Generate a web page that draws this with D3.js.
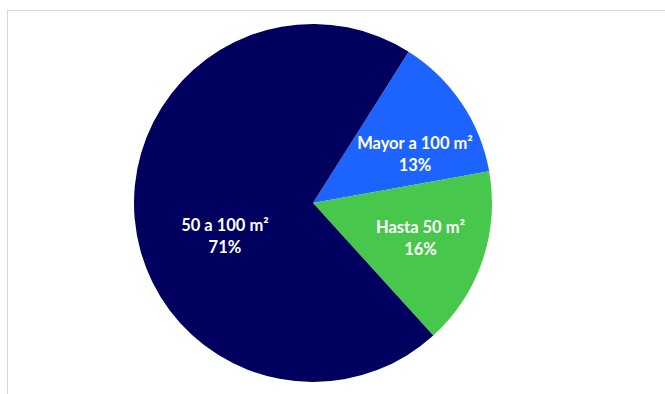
<!DOCTYPE html>
<html><head><meta charset="utf-8">
<script src="https://cdn.jsdelivr.net/npm/d3@7"></script>
<style>html,body{margin:0;padding:0;background:#fff;}svg{display:block;}</style>
</head><body>
<svg id="chart" width="665" height="394"></svg>
<script>
const categories = ["Mayor a 100 m²", "Hasta 50 m²", "50 a 100 m²"];
const values = [13.2, 16.1, 70.7];
const percentLabels = ["13%", "16%", "71%"];
const colors = ["#1D63FF", "#47C74B", "#00005E"];

const W = 665, H = 394;
const cx = 313, cy = 203, R = 179;
const startDeg = 32.3;
// label placement (polar, relative to pie centre): radius, angle in degrees from top
const labelPolar = [{r: 113, a: 64.5}, {r: 113, a: 108}, {r: 94, a: 249.5}];

const svg = d3.select("#chart");
svg.append("rect").attr("x", 7.5).attr("y", 10.5).attr("width", W + 20).attr("height", H + 20)
  .attr("fill", "none").attr("stroke", "#d9d9d9").attr("stroke-width", 1);

const start = startDeg * Math.PI / 180;
const pie = d3.pie().sort(null).startAngle(start).endAngle(start + 2 * Math.PI);
const arcs = pie(values);
const arc = d3.arc().innerRadius(0).outerRadius(R);

const g = svg.append("g").attr("transform", `translate(${cx},${cy})`);
g.selectAll("path").data(arcs).join("path")
  .attr("d", arc).attr("fill", (d, i) => colors[i]);

const lab = g.selectAll("text.lbl").data(arcs).join("text")
  .attr("class", "lbl")
  .attr("text-anchor", "middle")
  .attr("fill", "#fff")
  .attr("font-family", "Lato, 'Open Sans', sans-serif")
  .attr("font-weight", "bold")
  .attr("font-size", 16.5)
  .attr("transform", (d, i) => {
    const p = labelPolar[i];
    const a = p.a * Math.PI / 180;
    return `translate(${p.r * Math.sin(a)},${-p.r * Math.cos(a)})`;
  });
lab.append("tspan").attr("x", 0).attr("y", -5).text((d, i) => categories[i]);
lab.append("tspan").attr("x", 0).attr("y", 17).text((d, i) => percentLabels[i]);
</script>
</body></html>
